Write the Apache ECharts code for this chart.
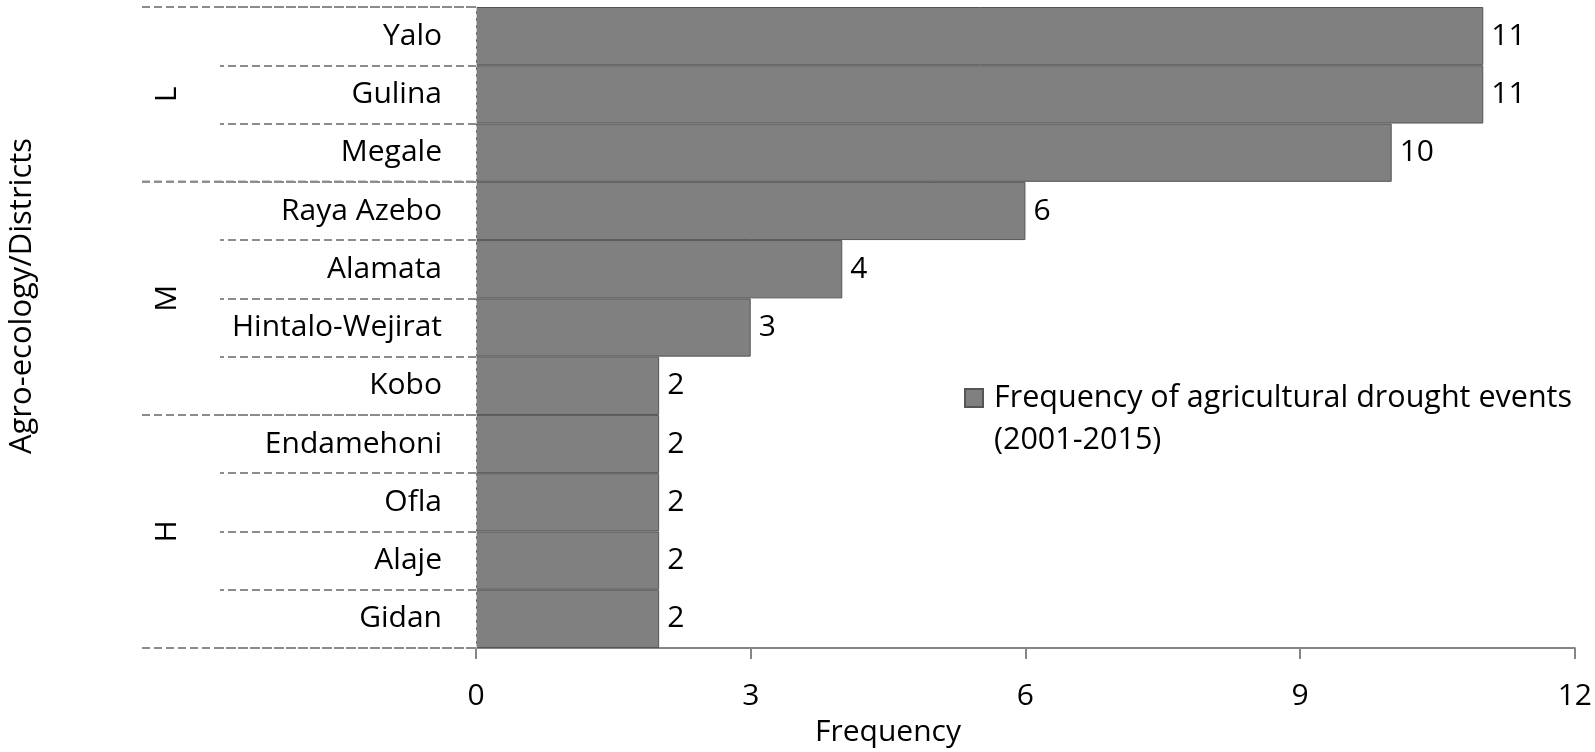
<!DOCTYPE html>
<html>
<head>
<meta charset="utf-8">
<script src="https://cdn.jsdelivr.net/npm/echarts@6/dist/echarts.min.js"></script>
<style>
    html, body { margin: 0; padding: 0; background: #fff; }
    #chart { width: 1595px; height: 752px; }
</style>
</head>
<body>
<div id="chart"></div>
<script>
    // districts top to bottom, grouped by agro-ecology zone
    const districts = ['Yalo', 'Gulina', 'Megale', 'Raya Azebo', 'Alamata', 'Hintalo-Wejirat', 'Kobo',
        'Endamehoni', 'Ofla', 'Alaje', 'Gidan'];
    const frequency = [11, 11, 10, 6, 4, 3, 2, 2, 2, 2, 2];
    const zones = ['L', 'M', 'H'];
    const zoneStart = [0, 3, 7];
    const zoneEnd = [2, 6, 10];
    const xTicks = [0, 3, 6, 9, 12];

    const seriesName = 'Frequency of agricultural drought events\n(2001-2015)';
    const font = 'Open Sans';
    const dashColor = '#8c8c8c';

    const chart = echarts.init(document.getElementById('chart'));

    const zoneData = zones.map((z, i) => [0, zoneStart[i], zoneEnd[i], z]);

    chart.setOption({
        animation: false,
        textStyle: { fontFamily: font },
        grid: { left: 476, right: 19, top: 7, bottom: 104 },
        legend: {
            left: 959,
            top: 330,
            icon: 'rect',
            itemWidth: 18,
            itemHeight: 18,
            itemGap: 0,
            data: [seriesName],
            // empty first line so the marker lines up with the first text line
            formatter: name => '\n' + name,
            textStyle: {
                fontSize: 30.5,
                color: '#000',
                lineHeight: 42,
                padding: [0, 0, 0, 6]
            }
        },
        xAxis: {
            type: 'value',
            min: xTicks[0],
            max: xTicks[xTicks.length - 1],
            interval: 3,
            splitLine: { show: false },
            axisLine: { show: true, lineStyle: { color: '#868686', width: 2 } },
            axisTick: { show: true, length: 11, lineStyle: { color: '#868686', width: 2 } },
            axisLabel: { fontSize: 30, color: '#000', margin: 33 }
        },
        yAxis: {
            type: 'category',
            inverse: true,
            data: districts,
            z: 3,
            axisLine: { show: true, lineStyle: { color: '#c8c8c8', width: 1, type: [4, 3] } },
            axisTick: { show: true, length: 256, lineStyle: { color: dashColor, width: 2, type: [8, 4] } },
            axisLabel: { fontSize: 30, color: '#000', margin: 34 }
        },
        series: [
            {
                name: seriesName,
                type: 'bar',
                data: frequency,
                barCategoryGap: 0,
                itemStyle: { color: '#808080', borderColor: '#555555', borderWidth: 1 },
                label: {
                    show: true,
                    position: 'right',
                    distance: 8,
                    fontSize: 30,
                    color: '#000'
                }
            },
            {
                // zone brackets: long dashed boundaries and rotated zone letters
                type: 'custom',
                silent: true,
                clip: false,
                encode: { x: 0, y: 1 },
                data: zoneData,
                renderItem: function (params, api) {
                    const half = api.size([0, 1])[1] / 2;
                    const p0 = api.coord([0, api.value(1)]);
                    const p1 = api.coord([0, api.value(2)]);
                    const top = p0[1] - half;
                    const bottom = p1[1] + half;
                    const x0 = p0[0];
                    const style = { stroke: dashColor, lineWidth: 2, lineDash: [8, 4] };
                    return {
                        type: 'group',
                        children: [
                            { type: 'line', shape: { x1: x0 - 334, y1: top, x2: x0, y2: top }, style: style },
                            { type: 'line', shape: { x1: x0 - 334, y1: bottom, x2: x0, y2: bottom }, style: style },
                            {
                                type: 'text',
                                x: x0 - 309,
                                y: (top + bottom) / 2,
                                rotation: Math.PI / 2,
                                style: {
                                    text: zones[params.dataIndex],
                                    fontSize: 30,
                                    fontFamily: font,
                                    fill: '#000',
                                    align: 'center',
                                    verticalAlign: 'middle'
                                }
                            }
                        ]
                    };
                }
            }
        ],
        graphic: [
            {
                type: 'text',
                x: 22,
                y: 296,
                rotation: Math.PI / 2,
                style: {
                    text: 'Agro-ecology/Districts',
                    fontSize: 31,
                    fontFamily: font,
                    fill: '#000',
                    align: 'center',
                    verticalAlign: 'middle'
                }
            },
            {
                type: 'text',
                x: 815,
                y: 732,
                style: {
                    text: 'Frequency',
                    fontSize: 30,
                    fontFamily: font,
                    fill: '#000',
                    align: 'left',
                    verticalAlign: 'middle'
                }
            }
        ]
    });
</script>
</body>
</html>
